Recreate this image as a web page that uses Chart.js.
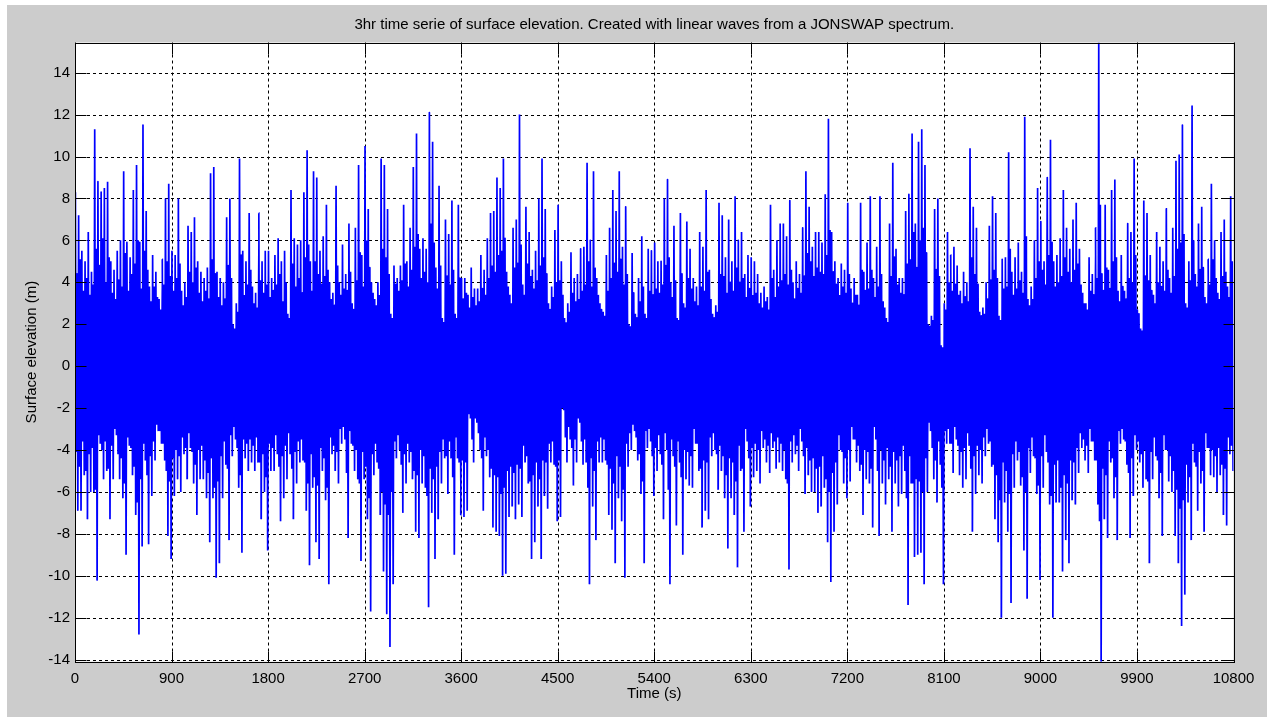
<!DOCTYPE html>
<html lang="en">
<head>
  <meta charset="UTF-8">
  <title>3hr time serie of surface elevation</title>
  <script src="https://cdn.jsdelivr.net/npm/chart.js"></script>
  <style>
    html, body {
      margin: 0;
      padding: 0;
      background: #ffffff;
    }
    .figure {
      position: absolute;
      left: 7px;
      top: 5px;
      width: 1260px;
      height: 712px;
      background: #cccccc;
    }
    canvas {
      display: block;
    }
  </style>
</head>
<body>
  <div class="figure">
    <canvas id="waveChart" width="1260" height="712"></canvas>
  </div>

  <script>
    // Surface elevation per 30 s window (m): highest crest and lowest trough
    const binSeconds = 30;
    const crest = [
      8.3, 7.2, 5.5, 5.0, 6.4, 4.5, 11.3, 8.8, 8.3, 8.5,
      8.8, 5.0, 4.6, 5.5, 6.0, 9.3, 5.9, 5.2, 8.4, 9.6,
      5.9, 11.5, 7.4, 3.8, 5.3, 4.5, 3.2, 5.1, 8.0, 8.7,
      5.5, 5.3, 8.0, 3.6, 4.0, 6.7, 6.4, 7.1, 5.0, 4.5,
      4.2, 4.7, 9.2, 9.5, 4.5, 4.2, 4.0, 7.1, 8.0, 2.0,
      3.0, 9.9, 5.5, 5.0, 7.3, 3.8, 3.5, 7.3, 5.0, 5.5,
      5.5, 4.2,
      5.3, 6.1, 5.0, 5.5, 2.5, 8.4, 6.1, 5.8, 6.0, 8.3,
      10.3, 5.0, 9.3, 9.0, 5.5, 6.2, 7.7, 4.0, 3.5, 8.6,
      4.0, 5.8, 4.4, 6.8, 3.0, 6.6, 9.6, 5.3, 10.5, 7.5,
      4.0, 3.2, 4.0, 9.9, 9.6, 7.5, 2.5, 4.8, 4.2, 4.8,
      7.7, 5.0, 6.6, 9.5, 11.1, 5.6, 6.1, 5.6, 12.1, 10.7,
      4.7, 8.6, 2.3, 7.0, 6.3, 7.9, 2.5, 7.7, 4.2, 4.2,
      3.4, 4.7, 3.7, 3.7, 5.3, 4.6, 6.1, 7.3, 7.4, 9.0,
      8.5, 9.9, 4.5, 3.4, 6.6, 7.0, 12.0, 3.9, 7.6, 6.4,
      4.6, 5.5, 8.0, 9.9, 7.5, 3.0, 3.8, 6.5, 7.7, 5.0,
      2.3, 3.0, 5.4, 4.2, 4.4, 5.6, 5.7, 9.7, 6.0, 9.3,
      4.2, 3.0, 2.6, 5.3, 6.6, 8.4, 7.4, 9.3, 5.7, 7.6,
      2.0, 5.4, 2.5, 4.2, 6.2, 2.5, 5.6, 5.5, 5.9, 5.0,
      5.0,
      8.0, 8.9, 4.0, 6.7, 2.3, 7.3, 3.0, 6.9, 5.6, 4.2,
      3.8, 6.4, 5.7, 8.4, 4.6, 2.5, 2.9, 7.8, 7.2, 5.2,
      7.0, 5.0, 8.1, 6.0, 6.4, 4.4, 5.3, 5.2, 5.0, 4.4,
      3.5, 3.8, 3.3, 7.7, 4.6, 6.0, 6.8, 6.8, 6.2, 7.9,
      4.0, 5.0, 4.4, 6.6, 9.3, 7.6, 5.7, 6.4, 6.4, 5.9,
      8.2, 11.8, 6.4, 5.0, 4.2, 4.9, 4.6, 7.8, 3.7, 4.2,
      3.4, 7.8, 4.5, 5.9, 8.1, 4.2, 5.7, 8.1, 3.1, 2.3,
      6.8, 9.7, 5.6, 4.2, 4.2, 7.4, 8.2, 11.1, 6.8, 10.7,
      11.3, 9.6, 2.0, 2.4, 7.5, 8.0, 1.0, 3.0, 6.4, 5.3,
      5.7, 4.8, 3.6, 4.5, 4.0, 10.4, 7.6, 6.6, 2.6, 2.8,
      4.0, 6.7, 8.1, 7.3, 2.4, 5.1, 5.2, 10.2, 4.5, 5.2,
      5.9, 4.5, 11.9, 3.2, 3.8, 6.0, 8.5, 6.9, 5.0, 9.0,
      10.8, 5.0, 5.3, 6.1, 8.4, 6.6, 5.6, 7.0, 7.8, 5.6,
      3.5, 3.0, 5.2, 4.4, 6.6, 15.44, 4.4, 7.7, 4.6, 8.4,
      8.9, 3.6, 5.3, 3.6, 6.8, 6.4, 9.9, 2.7, 1.8, 7.9,
      7.3, 5.3, 3.4, 6.4, 5.7, 5.0, 7.5, 4.2, 6.6, 9.8,
      10.1, 11.5, 3.0, 5.0, 12.4, 4.4, 6.8, 7.6, 3.3, 5.1,
      8.7, 6.0, 3.5, 6.4, 7.0, 3.8, 8.1
    ];
    const trough = [
      -6.9, -6.9, -5.2, -7.3, -6.0, -6.0, -10.2, -3.7, -5.4, -5.0,
      -7.3, -5.4, -3.3, -5.4, -6.3, -9.0, -3.8, -5.2, -7.1, -12.8,
      -8.6, -4.5, -8.5, -6.2, -4.5, -3.1, -3.7, -4.5, -8.1, -9.2,
      -6.2, -5.4, -6.0, -4.2, -5.4, -3.9, -5.6, -7.1, -5.4, -5.4,
      -6.3, -8.4, -6.3, -10.1, -9.4, -6.3, -4.7, -8.3, -4.3, -3.5,
      -5.8, -8.9, -4.4, -5.0, -4.6, -5.0, -4.6, -7.3, -6.0, -8.8,
      -5.0, -5.0,
      -4.2, -7.4, -6.3, -5.4, -4.2, -7.3, -5.6, -4.6, -4.5, -6.9,
      -9.5, -5.8, -8.4, -9.2, -5.0, -6.4, -10.4, -4.2, -5.0, -5.6,
      -3.7, -3.5, -8.2, -3.7, -5.0, -5.4, -9.3, -5.4, -7.3, -11.7,
      -5.2, -4.6, -7.1, -9.8, -11.8, -13.4, -10.4, -4.4, -4.0, -7.0,
      -5.6, -4.6, -5.4, -7.9, -8.2, -5.6, -5.8, -11.5, -7.0, -9.2,
      -7.3, -5.6, -4.4, -6.1, -4.4, -9.0, -4.4, -7.1, -7.2, -6.9,
      -2.5, -4.6, -2.7, -4.0, -6.9, -4.3, -5.3, -7.7, -7.9, -8.1,
      -10.0, -9.9, -7.2, -6.7, -7.3, -6.6, -7.2, -4.6, -5.6, -9.2,
      -8.4, -6.7, -9.2, -6.2, -6.8, -4.6, -4.7, -7.4, -7.2, -2.1,
      -4.6, -3.5, -5.7, -4.6, -2.7, -4.7, -4.6, -10.4, -6.7, -8.3,
      -4.6, -4.6, -4.5, -7.1, -7.8, -9.4, -6.3, -7.4, -10.1, -4.8,
      -4.0, -3.1, -4.5, -6.1, -9.4, -3.9, -3.6, -6.2, -5.0, -4.2,
      -7.3,
      -4.0, -10.4, -4.3, -7.6, -4.6, -9.0, -5.4, -5.7, -5.8, -3.7,
      -5.0, -7.7, -6.9, -7.3, -4.3, -4.0, -5.9, -5.0, -6.3, -8.7,
      -6.3, -7.1, -9.6, -5.0, -7.9, -3.6, -6.7, -5.3, -5.0, -5.6,
      -3.9, -4.6, -5.1, -3.9, -4.9, -4.6, -5.0, -5.4, -9.7, -4.6,
      -4.2, -5.0, -3.6, -6.1, -5.2, -6.0, -6.0, -7.0, -6.7, -5.8,
      -8.4, -10.3, -7.9, -6.6, -4.0, -5.6, -6.3, -5.5, -3.5, -4.6,
      -5.0, -7.1, -5.4, -5.6, -7.7, -3.5, -8.1, -5.6, -6.6, -5.4,
      -7.9, -5.6, -6.7, -6.1, -5.0, -11.4, -5.6, -9.1, -9.0, -8.9,
      -10.4, -6.0, -3.1, -5.4, -6.5, -4.7, -10.4, -3.7, -3.7, -5.1,
      -3.5, -5.2, -5.8, -5.4, -3.8, -7.9, -6.1, -5.2, -5.6, -4.3,
      -3.7, -4.8, -7.3, -8.4, -12.0, -6.5, -7.9, -11.3, -5.8, -4.5,
      -5.7, -8.8, -11.1, -5.1, -4.3, -6.1, -10.2, -5.8, -4.1, -6.6,
      -12.0, -6.5, -6.5, -9.8, -8.3, -9.4, -6.4, -6.6, -5.1, -3.9,
      -4.5, -5.1, -3.6, -4.5, -6.6, -14.1, -7.3, -8.2, -4.6, -6.3,
      -8.3, -3.7, -3.5, -4.7, -8.2, -6.2, -4.0, -4.6, -5.8, -5.4,
      -9.4, -5.4, -4.3, -6.3, -8.1, -4.0, -5.5, -6.0, -8.1, -9.4,
      -12.4, -10.9, -6.5, -8.3, -4.6, -6.9, -5.6, -7.9, -3.9, -5.2,
      -5.3, -6.0, -5.2, -7.1, -7.6, -4.2, -5.0
    ];

    // Second-largest crest and trough in the same windows (m)
    const crest2 = [
      4.4, 5.1, 3.6, 4.2, 3.4, 3.9,  5.6, 4.8, 6.1, 4.0, 5.2, 3.5,
      3.2, 4.1, 3.8, 5.4, 3.6, 4.4,  4.9, 6.0, 3.7, 5.5, 4.6, 3.1,
      3.8, 3.3, 2.7, 3.9, 5.0, 4.3,  3.6, 4.2, 4.9, 2.9, 3.3, 4.5,
      4.0, 4.7, 3.5, 3.1, 3.6, 3.2,  5.1, 4.4, 3.3, 2.9, 3.2, 4.8,
      4.2, 1.8, 2.6, 5.3, 3.4, 3.9,  4.6, 3.0, 2.8, 4.1, 3.5, 3.9,
      3.3, 3.6, 3.9, 4.4, 3.1, 4.0,  2.3, 4.9, 3.8, 4.2, 3.5, 5.2,
      5.8, 3.6, 5.0, 4.4, 3.9, 4.3,  4.6, 3.2, 2.9, 4.8, 3.4, 3.7,
      3.6, 4.5, 2.7, 4.1, 5.4, 3.8,  6.0, 4.7, 3.5, 2.9, 3.4, 5.6,
      5.2, 4.4, 2.3, 3.9, 3.6, 4.1,  4.9, 3.8, 4.6, 5.7, 6.3, 4.2,
      4.5, 4.0, 6.8, 5.9, 3.7, 4.8,  2.1, 4.3, 3.9, 4.6, 2.3, 4.2,
      3.2, 3.5, 2.8, 3.3, 2.9, 3.1,  3.7, 3.4, 4.2, 4.8, 4.5, 5.3,
      5.5, 6.1, 3.8, 3.0, 4.7, 4.9,  5.8, 3.4, 4.9, 4.3, 3.7, 4.1,
      4.8, 5.2, 4.4, 2.7, 3.3, 4.0,  4.1, 3.4, 2.1, 2.6, 3.5, 3.1,
      3.2, 3.6, 3.9, 5.0, 3.8, 4.7,  3.4, 2.7, 2.4, 3.6, 4.2, 4.9,
      4.5, 5.1, 3.9, 4.4, 1.9, 3.5,  2.3, 3.1, 3.8, 2.3, 3.6, 3.4,
      3.7, 3.5, 3.9, 4.8, 5.2, 3.3,  4.1, 2.2, 4.4, 2.8, 4.2, 3.7,
      3.1, 2.9, 3.8, 3.6, 4.5, 3.2,  2.3, 2.6, 4.4, 4.3, 3.5, 4.0,
      3.6, 4.7, 4.0, 4.2, 3.3, 3.7,  3.4, 3.5, 3.0, 2.8, 3.1, 2.7,
      4.2, 3.3, 3.8, 4.1, 4.4, 3.9,  4.6, 3.2, 3.7, 3.5, 4.3, 5.4,
      5.0, 4.3, 4.7, 4.5, 4.4, 5.3,  6.5, 4.5, 3.9, 3.4, 3.8, 3.5,
      4.4, 3.0, 3.4, 2.9, 4.6, 3.6,  3.7, 4.6, 3.3, 3.8, 4.4, 2.8,
      2.1, 4.3, 5.2, 3.9, 3.5, 3.4,  4.9, 5.1, 6.4, 4.7, 6.0, 6.6,
      5.4, 1.9, 2.2, 4.6, 4.3, 0.9,  2.7, 4.0, 3.6, 3.9, 3.4, 3.0,
      3.3, 3.1, 5.2, 4.4, 3.9, 2.4,  2.5, 3.2, 4.1, 4.6, 4.2, 2.2,
      3.7, 3.8, 5.6, 3.4, 3.7, 4.1,  3.5, 6.2, 2.9, 3.2, 4.2, 5.0,
      4.6, 3.9, 5.3, 5.9, 3.8, 4.0,  4.3, 5.2, 4.5, 4.0, 4.6, 4.9,
      3.9, 3.0, 2.7, 3.6, 3.4, 4.2,  7.7, 3.6, 4.7, 3.7, 5.0, 5.2,
      3.1, 3.8, 3.2, 4.2, 4.0, 5.3,  2.5, 1.7, 4.3, 4.1, 3.6, 3.0,
      4.0, 3.8, 3.6, 4.6, 3.5, 4.3,  5.6, 5.9, 6.3, 2.8, 4.1, 6.0,
      3.8, 4.6, 4.7, 3.0, 3.9, 5.1,  4.2, 3.2, 4.3, 4.5, 3.3, 5.0
    ];
    const trough2 = [
      -4.1, -4.8, -3.6, -5.0, -4.2, -3.9,  -5.9, -3.3, -4.0, -3.6, -4.9, -3.8,
      -3.0, -4.2, -4.4, -5.6, -3.4, -3.9,  -4.8, -6.5, -5.4, -3.7, -5.2, -4.3,
      -3.6, -2.8, -3.1, -3.7, -5.0, -5.5,  -4.4, -4.0, -4.3, -3.4, -3.9, -3.2,
      -4.1, -4.7, -4.0, -3.8, -4.5, -5.1,  -4.4, -5.8, -5.5, -4.3, -3.6, -4.9,
      -3.3, -2.9, -3.9, -5.2, -3.5, -3.7,  -3.5, -3.8, -3.4, -4.6, -4.2, -5.3,
      -3.7, -3.9, -3.3, -4.8, -4.3, -3.8,  -3.2, -4.9, -4.1, -3.6, -3.5, -4.6,
      -5.6, -4.2, -5.3, -5.7, -3.9, -4.4,  -5.8, -3.4, -3.8, -4.1, -3.0, -2.9,
      -5.1, -3.1, -3.8, -4.0, -5.6, -4.1,  -4.8, -6.3, -4.2, -3.7, -4.9, -6.0,
      -6.6, -7.1, -6.0, -3.6, -3.3, -4.7,  -4.2, -3.7, -4.1, -5.0, -5.2, -4.0,
      -4.3, -6.2, -4.9, -5.4, -4.8, -4.1,  -3.5, -4.3, -3.6, -5.3, -3.4, -4.6,
      -4.5, -4.6, -2.3, -3.5, -2.5, -3.2,  -4.4, -3.4, -4.0, -4.9, -5.2, -5.3,
      -6.1, -5.8, -5.0, -4.8, -5.1, -4.7,  -4.9, -3.8, -4.3, -5.5, -5.2, -4.6,
      -5.4, -4.5, -4.6, -3.7, -3.6, -4.8,  -4.5, -2.0, -3.4, -2.9, -3.9, -3.5,
      -2.5, -3.6, -3.5, -5.8, -4.4, -5.0,  -3.6, -3.4, -3.5, -4.7, -4.9, -5.6,
      -4.3, -4.8, -5.9, -3.7, -3.2, -2.8,  -3.4, -4.2, -5.5, -3.1, -3.0, -4.3,
      -3.9, -3.3, -4.7, -3.2, -5.9, -3.5,  -4.8, -3.6, -5.3, -4.0, -4.1, -4.3,
      -3.0, -3.7, -4.9, -4.5, -4.6, -3.4,  -3.2, -4.2, -3.8, -4.3, -5.2, -4.4,
      -4.6, -5.5, -3.8, -4.9, -3.0, -4.4,  -3.9, -3.7, -4.0, -3.1, -3.5, -3.8,
      -3.2, -3.6, -3.4, -3.7, -4.0, -5.6,  -3.6, -3.3, -3.8, -3.0, -4.3, -3.9,
      -4.5, -4.4, -4.9, -4.8, -4.3, -5.4,  -6.0, -5.1, -4.6, -3.3, -4.1, -4.4,
      -4.0, -2.9, -3.5, -3.8, -4.7, -4.0,  -4.1, -4.9, -2.9, -5.0, -4.0, -4.5,
      -3.9, -4.8, -4.1, -4.5, -4.3, -3.8,  -6.3, -4.3, -5.6, -5.4, -5.5, -6.0,
      -4.4, -2.7, -3.9, -4.5, -3.6, -5.8,  -3.1, -3.0, -3.7, -2.9, -3.8, -4.1,
      -3.9, -3.2, -4.9, -4.3, -3.8, -4.0,  -3.4, -3.0, -3.6, -4.7, -5.2, -6.4,
      -4.6, -5.0, -6.1, -4.2, -3.6, -4.1,  -5.3, -6.0, -3.9, -3.4, -4.4, -5.7,
      -4.3, -3.3, -4.6, -6.2, -4.7, -4.5,  -5.8, -5.2, -5.6, -4.5, -4.6, -3.9,
      -3.2, -3.5, -3.8, -3.0, -3.6, -4.5,  -7.4, -4.9, -5.2, -3.6, -4.4, -5.3,
      -3.1, -3.0, -3.6, -5.1, -4.4, -3.3,  -3.6, -4.2, -4.0, -5.5, -4.1, -3.4,
      -4.5, -5.1, -3.3, -4.0, -4.3, -5.0,  -5.9, -6.8, -6.4, -4.7, -5.3, -3.7,
      -4.8, -4.1, -5.0, -3.2, -3.9, -4.0,  -4.3, -3.9, -4.7, -4.9, -3.4, -3.8
    ];

    // Axis ticks
    const timeTicks = [0, 900, 1800, 2700, 3600, 4500, 5400, 6300, 7200, 8100, 9000, 9900, 10800];
    const elevationTicks = [-14, -12, -10, -8, -6, -4, -2, 0, 2, 4, 6, 8, 10, 12, 14];

    const titleText = '3hr time serie of surface elevation. Created with linear waves from a JONSWAP spectrum.';
    const fontFamily = '"Liberation Sans", Arial, Helvetica, sans-serif';
    const fontSize = 15;

    // Within each window the trace runs crest, trough2, crest2, trough
    const points = [];
    crest.forEach((c, i) => {
      const t0 = i * binSeconds;
      points.push({ x: t0 + binSeconds * 0.125, y: c });
      points.push({ x: t0 + binSeconds * 0.375, y: trough2[i] });
      points.push({ x: t0 + binSeconds * 0.625, y: crest2[i] });
      points.push({ x: t0 + binSeconds * 0.875, y: trough[i] });
    });

    // Tight limits, as the data spans them
    const yMax = Math.max(...crest);
    const yMin = Math.min(...trough);

    // Plot background, dotted grid, boxed axes with inward ticks, and the titles
    const matlabFrame = {
      id: 'matlabFrame',
      beforeDraw(chart) {
        const { ctx, chartArea: a } = chart;
        ctx.save();
        ctx.fillStyle = '#ffffff';
        ctx.fillRect(a.left, a.top, a.right - a.left, a.bottom - a.top);
        ctx.restore();
      },
      beforeDatasetsDraw(chart) {
        const { ctx, chartArea: a, scales: { x, y } } = chart;
        ctx.save();
        ctx.strokeStyle = '#000000';
        ctx.lineWidth = 1;
        ctx.setLineDash([3, 3]);
        ctx.beginPath();
        timeTicks.forEach(v => {
          const px = Math.round(x.getPixelForValue(v)) + 0.5;
          ctx.moveTo(px, a.top);
          ctx.lineTo(px, a.bottom);
        });
        elevationTicks.forEach(v => {
          const py = Math.round(y.getPixelForValue(v)) + 0.5;
          ctx.moveTo(a.left, py);
          ctx.lineTo(a.right, py);
        });
        ctx.stroke();
        ctx.restore();
      },
      afterDatasetsDraw(chart) {
        const { ctx, chartArea: a, scales: { x, y } } = chart;
        const left = Math.round(a.left) + 0.5;
        const right = Math.round(a.right) + 0.5;
        const top = Math.round(a.top) + 0.5;
        const bottom = Math.round(a.bottom) + 0.5;
        const tickLen = 11;
        ctx.save();
        ctx.strokeStyle = '#000000';
        ctx.lineWidth = 1;
        ctx.setLineDash([]);
        ctx.strokeRect(left, top, right - left, bottom - top);
        ctx.beginPath();
        timeTicks.forEach(v => {
          const px = Math.round(x.getPixelForValue(v)) + 0.5;
          ctx.moveTo(px, bottom);
          ctx.lineTo(px, bottom - tickLen);
          ctx.moveTo(px, top);
          ctx.lineTo(px, top + tickLen);
        });
        elevationTicks.forEach(v => {
          const py = Math.round(y.getPixelForValue(v)) + 0.5;
          ctx.moveTo(left, py);
          ctx.lineTo(left + tickLen, py);
          ctx.moveTo(right, py);
          ctx.lineTo(right - tickLen, py);
        });
        ctx.stroke();
        ctx.restore();
      },
      afterDraw(chart) {
        const { ctx, chartArea: a } = chart;
        const cx = (a.left + a.right) / 2;
        const cy = (a.top + a.bottom) / 2;
        ctx.save();
        ctx.fillStyle = '#000000';
        ctx.font = fontSize + 'px ' + fontFamily;
        ctx.textAlign = 'center';
        ctx.textBaseline = 'middle';
        ctx.fillText(titleText, cx, 20);
        ctx.fillText('Time (s)', cx, 689);
        ctx.translate(24.5, cy);
        ctx.rotate(-Math.PI / 2);
        ctx.fillText('Surface elevation (m)', 0, 0);
        ctx.restore();
      }
    };

    const ctx = document.getElementById('waveChart').getContext('2d');
    new Chart(ctx, {
      type: 'line',
      data: {
        datasets: [{
          data: points,
          borderColor: '#0000ff',
          backgroundColor: '#0000ff',
          borderWidth: 1.7,
          pointRadius: 0,
          // a tiny tension keeps segments straight but draws every vertex
          tension: 0.001,
          // the packed oscillations read as a solid band around zero
          fill: 'origin'
        }]
      },
      options: {
        responsive: false,
        animation: false,
        events: [],
        layout: { padding: { left: 0, top: 37.5, right: 33.5, bottom: 0 } },
        plugins: {
          legend: { display: false },
          tooltip: { enabled: false }
        },
        scales: {
          x: {
            type: 'linear',
            min: 0,
            max: 10800,
            grid: { display: false, drawTicks: false },
            border: { display: false },
            afterBuildTicks: scale => { scale.ticks = timeTicks.map(v => ({ value: v })); },
            afterFit: scale => { scale.height = 55.3; },
            ticks: {
              color: '#000000',
              font: { family: fontFamily, size: fontSize },
              padding: 8,
              maxRotation: 0,
              autoSkip: false,
              callback: v => String(v)
            }
          },
          y: {
            type: 'linear',
            min: yMin,
            max: yMax,
            grid: { display: false, drawTicks: false },
            border: { display: false },
            afterBuildTicks: scale => { scale.ticks = elevationTicks.map(v => ({ value: v })); },
            afterFit: scale => { scale.width = 68; },
            ticks: {
              color: '#000000',
              font: { family: fontFamily, size: fontSize },
              padding: 5,
              autoSkip: false,
              callback: v => String(v)
            }
          }
        }
      },
      plugins: [matlabFrame]
    });
  </script>
</body>
</html>
